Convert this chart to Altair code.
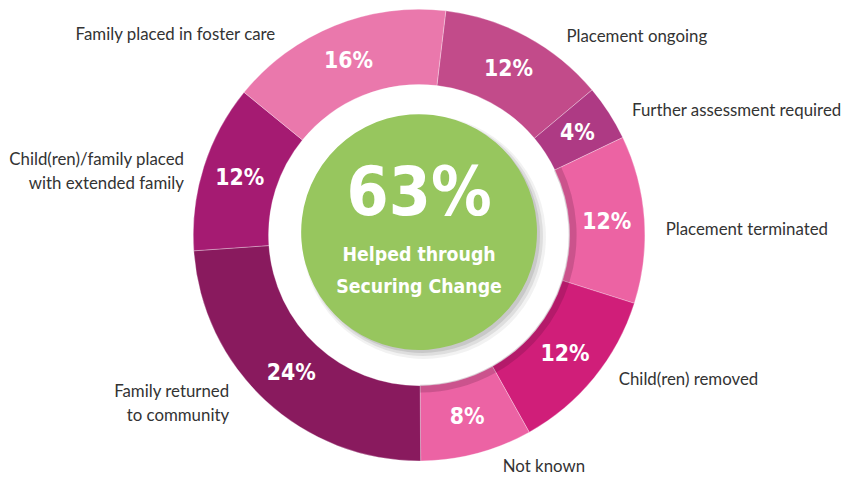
import math
import altair as alt
import pandas as pd

# ---- data ----
categories = [
    "Placement ongoing",
    "Further assessment required",
    "Placement terminated",
    "Child(ren) removed",
    "Not known",
    "Family returned\nto community",
    "Child(ren)/family placed\nwith extended family",
    "Family placed in foster care",
]
values = [12, 4, 12, 12, 8, 24, 12, 16]
colors = ["#C24B8A", "#AE3A84", "#EC63A3", "#D01E79", "#EC63A4", "#891A5E", "#A51B72", "#EA78AC"]
center_value = "63%"
center_caption = ["Helped through", "Securing Change"]

# label placement nudges (annotation layout, in percent-of-circle units)
label_nudge = [2.3, 0.7, 0.8, -0.9, -1.4, 2.1, 0.0, -3.8]

df = pd.DataFrame({"category": categories, "value": values, "color": colors})
df["end"] = df["value"].cumsum()
df["start"] = df["end"] - df["value"]
df["mid"] = (df["start"] + df["end"]) / 2
df["label_pos"] = df["mid"] + pd.Series(label_nudge)
df["pct"] = df["value"].astype(str) + "%"
df["side"] = ["right" if m < 50 else "left" for m in df["mid"]]

W, H = 830, 454
offset = math.radians(6.8)
theta_scale = alt.Scale(domain=[0, 100], range=[offset, offset + 2 * math.pi])
COND = "DejaVu Sans Condensed, Roboto, sans-serif"

base = alt.Chart(df)

ring = base.mark_arc(innerRadius=152, outerRadius=228, stroke="#ffffff",
                     strokeWidth=0.6, strokeOpacity=0.5).encode(
    theta=alt.Theta("start:Q", scale=theta_scale),
    theta2="end:Q",
    color=alt.Color("color:N", scale=None),
)

inner_shade = base.transform_filter(
    (alt.datum.mid > 18) & (alt.datum.mid < 50)
).mark_arc(innerRadius=151, outerRadius=159, color="#3a0a28", opacity=0.18).encode(
    theta=alt.Theta("start:Q", scale=theta_scale),
    theta2="end:Q",
)

shadow_layers = []
for r, o, a in [(123, 5, 0.08), (121, 4, 0.12), (119, 3, 0.16)]:
    shadow_layers.append(
        base.transform_aggregate(lo="min(start)", hi="max(end)")
        .mark_arc(radius=r, color="#555555", opacity=a, xOffset=o, yOffset=o - 3)
        .encode(theta=alt.Theta("lo:Q", scale=theta_scale), theta2="hi:Q")
    )

green = base.transform_aggregate(lo="min(start)", hi="max(end)").mark_arc(
    radius=119, color="#97C65E", yOffset=-3
).encode(theta=alt.Theta("lo:Q", scale=theta_scale), theta2="hi:Q")

pct_text = base.mark_text(
    radius=190, font=COND, fontWeight="bold", fontSize=23,
    color="white", baseline="middle", align="center",
).encode(theta=alt.Theta("mid:Q", scale=theta_scale), text="pct:N")

label_common = dict(radius=249, font="Lato", fontSize=17, color="#333333",
                    baseline="middle", lineBreak="\n", lineHeight=24)
labels_right = base.transform_filter(alt.datum.side == "right").mark_text(
    align="left", **label_common
).encode(theta=alt.Theta("label_pos:Q", scale=theta_scale), text="category:N")
labels_left = base.transform_filter(alt.datum.side == "left").mark_text(
    align="right", **label_common
).encode(theta=alt.Theta("label_pos:Q", scale=theta_scale), text="category:N")

center_df = pd.DataFrame({"t": [center_value] + center_caption,
                          "k": ["big", "cap1", "cap2"]})
cbase = alt.Chart(center_df)
big = cbase.transform_filter(alt.datum.k == "big").mark_text(
    font=COND, fontWeight="bold", fontSize=68, color="white",
    baseline="middle", align="center", dy=-40,
).encode(text="t:N")
cap1 = cbase.transform_filter(alt.datum.k == "cap1").mark_text(
    font=COND, fontWeight="bold", fontSize=19.5, color="white",
    baseline="middle", align="center", dy=20,
).encode(text="t:N")
cap2 = cbase.transform_filter(alt.datum.k == "cap2").mark_text(
    font=COND, fontWeight="bold", fontSize=19.5, color="white",
    baseline="middle", align="center", dy=52,
).encode(text="t:N")

chart = alt.layer(
    ring, inner_shade, *shadow_layers, green, pct_text, labels_right, labels_left,
    big, cap1, cap2,
).properties(
    width=W, height=H, autosize="none",
    padding={"left": 0, "top": 0, "right": 16, "bottom": 15},
    background="white",
).configure_view(stroke=None)

chart.save("out.html", embed_options={"renderer": "svg", "actions": False})
